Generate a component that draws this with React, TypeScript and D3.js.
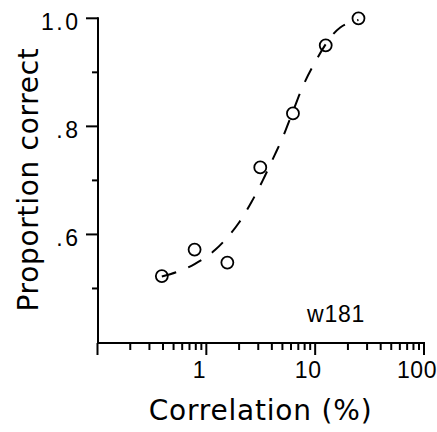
import React from "react";
import * as d3 from "d3";

// Observed proportion correct at each correlation level (%)
const correlation = [0.39, 0.78, 1.56, 3.13, 6.25, 12.5, 25];
const proportion = [0.523, 0.572, 0.548, 0.724, 0.824, 0.95, 1.0];

// Fitted psychometric curve, sampled along its length
const fitX = [0.39, 0.78, 1.2, 1.6, 2, 2.6, 3.3, 4.2, 5, 6.2, 7.7, 10, 12.5, 14, 17, 20, 25];
const fitY = [0.522, 0.545, 0.571, 0.597, 0.622, 0.66, 0.7, 0.745, 0.778, 0.826, 0.874, 0.919, 0.952, 0.966, 0.983, 0.991, 0.997];

const xTickLabels = ["1", "10", "100"];
const xLabelValues = [1, 10, 100];
const yTickValues = [0.5, 0.6, 0.7, 0.8, 0.9, 1.0];
const yTickLabels: Record<string, string> = { "0.6": ".6", "0.8": ".8", "1": "1.0" };

const subject = "w181";

const W = 437;
const H = 432;

export default function App() {
  const x = d3.scaleLog().domain([0.1, 100]).range([97.5, 424]);
  const y = d3.scaleLinear().domain([0.4, 1.0]).range([342.5, 18.3]);

  const axisY = 343;
  const axisX = 98;

  const xTicks = x.ticks();
  const isDecade = (v: number) => Math.abs(Math.log10(v) - Math.round(Math.log10(v))) < 1e-6;

  const fitLine = d3
    .line<number>()
    .x((_, i) => x(fitX[i]))
    .y((d) => y(d))
    .curve(d3.curveMonotoneX)(fitY) as string;

  const tickFont = "'Liberation Sans', Arial, sans-serif";
  const titleFont = "'DejaVu Sans', sans-serif";

  return (
    <svg
      width={W}
      height={H}
      viewBox={`0 0 ${W} ${H}`}
      style={{ position: "absolute", left: 0, top: 0, background: "#fff" }}
    >
      {/* fitted curve */}
      <path
        d={fitLine}
        fill="none"
        stroke="#000"
        strokeWidth={2}
        strokeDasharray="15,13"
      />

      {/* data points */}
      {correlation.map((c, i) => (
        <circle
          key={i}
          cx={x(c)}
          cy={y(proportion[i])}
          r={6}
          fill="none"
          stroke="#000"
          strokeWidth={1.8}
        />
      ))}

      {/* y axis */}
      <line x1={axisX} x2={axisX} y1={y(1.0) - 1} y2={axisY + 1} stroke="#000" strokeWidth={2} />
      {yTickValues.map((v) => {
        const key = String(+v.toFixed(1));
        const label = yTickLabels[key];
        const major = label !== undefined;
        const yy = y(v);
        return (
          <g key={key}>
            <line x1={axisX - (major ? 12 : 6)} x2={axisX} y1={yy} y2={yy} stroke="#000" strokeWidth={2} />
            {major && (
              <text
                x={80.5}
                y={yy + 11.5}
                textAnchor="end"
                fontFamily={tickFont}
                fontSize={23}
                letterSpacing={2.5}
                fill="#000"
              >
                {label}
              </text>
            )}
          </g>
        );
      })}

      {/* x axis */}
      <line x1={axisX - 1} x2={x(100) + 1} y1={axisY} y2={axisY} stroke="#000" strokeWidth={2} />
      {xTicks.map((v, i) => {
        const major = isDecade(v);
        const xx = x(v);
        return (
          <line
            key={i}
            x1={xx}
            x2={xx}
            y1={axisY}
            y2={axisY + (major ? 12 : 7)}
            stroke="#000"
            strokeWidth={2}
          />
        );
      })}
      {xLabelValues.map((v, i) => (
        <text
          key={v}
          x={x(v) - 7}
          y={378}
          textAnchor="middle"
          fontFamily={tickFont}
          fontSize={23}
          letterSpacing={0.5}
          fill="#000"
        >
          {xTickLabels[i]}
        </text>
      ))}

      {/* axis titles */}
      <text
        x={260.5}
        y={420}
        textAnchor="middle"
        fontFamily={titleFont}
        fontSize={28}
        letterSpacing={0.8}
        fill="#000"
      >
        Correlation (%)
      </text>
      <text
        transform="translate(37.5,179.5) rotate(-90)"
        textAnchor="middle"
        fontFamily={titleFont}
        fontSize={28}
        letterSpacing={0.7}
        fill="#000"
      >
        Proportion correct
      </text>

      {/* subject label */}
      <text x={307} y={322} fontFamily={tickFont} fontSize={23} letterSpacing={0.8} fill="#000">
        {subject}
      </text>
    </svg>
  );
}
